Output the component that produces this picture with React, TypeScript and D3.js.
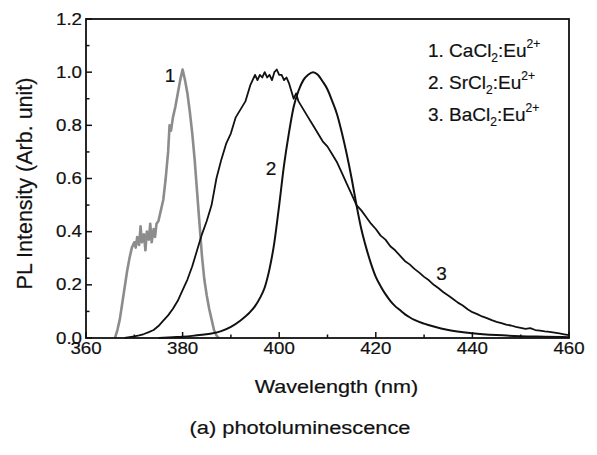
import * as d3 from "d3";
import React from "react";

// curve 1: CaCl2:Eu2+ (grey, noisy)
const caWl = [366, 366.5, 367, 367.5, 368, 368.5, 369, 369.5, 370, 370.3, 370.6, 371, 371.3, 371.6, 372, 372.3, 372.6, 373, 373.3, 373.6, 374, 374.3, 374.6, 375, 375.5, 376, 376.5, 377, 377.3, 377.6, 378, 378.5, 379, 379.5, 380, 380.5, 381, 381.5, 382, 382.5, 383, 383.5, 384, 384.5, 385, 385.5, 386, 386.5, 387, 387.5];
const caI = [0, 0.03, 0.07, 0.13, 0.19, 0.25, 0.3, 0.34, 0.36, 0.34, 0.38, 0.35, 0.42, 0.36, 0.39, 0.33, 0.4, 0.37, 0.43, 0.36, 0.41, 0.38, 0.43, 0.44, 0.48, 0.52, 0.6, 0.7, 0.8, 0.78, 0.83, 0.87, 0.92, 0.97, 1.01, 0.97, 0.92, 0.85, 0.77, 0.67, 0.55, 0.43, 0.31, 0.22, 0.16, 0.11, 0.07, 0.03, 0.01, 0];

// curve 2: SrCl2:Eu2+ (smooth)
const srWl = [375, 378, 380, 382, 384, 386, 388, 390, 392, 394, 395, 396, 397, 398, 399, 400, 401, 402, 403, 404, 405, 406, 407, 408, 409, 410, 411, 412, 413, 414, 415, 416, 417, 418, 419, 420, 421, 422, 423, 424, 425, 426, 427, 428, 430, 432, 435, 440, 445, 450, 455, 460];
const srI = [0, 0.003, 0.005, 0.008, 0.012, 0.017, 0.026, 0.042, 0.066, 0.098, 0.12, 0.15, 0.19, 0.26, 0.36, 0.5, 0.65, 0.77, 0.87, 0.93, 0.97, 0.99, 1.0, 0.99, 0.965, 0.935, 0.89, 0.84, 0.77, 0.69, 0.6, 0.5, 0.41, 0.34, 0.28, 0.23, 0.195, 0.165, 0.14, 0.12, 0.105, 0.09, 0.078, 0.068, 0.054, 0.043, 0.03, 0.018, 0.011, 0.007, 0.005, 0.003];

// curve 3: BaCl2:Eu2+ (black, noisy, long tail)
const baWl = [368, 369, 370, 371, 372, 373, 374, 375, 376, 377, 378, 379, 380, 381, 382, 383, 384, 385, 386, 387, 388, 389, 390, 391, 392, 393, 393.5, 394, 394.5, 395, 395.5, 396, 396.5, 397, 397.5, 398, 398.5, 399, 399.5, 400, 400.5, 401, 401.5, 402, 402.5, 403, 403.5, 404, 405, 406, 407, 408, 409, 410, 411, 412, 413, 414, 415, 416, 417, 418, 419, 420, 421, 422, 423, 424, 425, 426, 427, 428, 429, 430, 431, 432, 433, 434, 435, 436, 437, 438, 439, 440, 441, 442, 443, 444, 445, 446, 447, 448, 449, 450, 451, 452, 453, 454, 455, 456, 457, 458, 459, 460];
const baI = [0, 0.003, 0.006, 0.01, 0.015, 0.022, 0.03, 0.045, 0.065, 0.085, 0.11, 0.14, 0.18, 0.22, 0.27, 0.33, 0.39, 0.44, 0.5, 0.6, 0.67, 0.73, 0.77, 0.83, 0.86, 0.89, 0.92, 0.95, 0.97, 0.99, 0.97, 0.99, 0.98, 1.0, 0.98, 0.99, 0.97, 1.0, 1.01, 0.99, 0.99, 0.97, 0.98, 0.96, 0.93, 0.9, 0.92, 0.89, 0.86, 0.83, 0.8, 0.77, 0.74, 0.72, 0.69, 0.66, 0.62, 0.58, 0.54, 0.5, 0.48, 0.455, 0.43, 0.41, 0.385, 0.37, 0.345, 0.33, 0.31, 0.29, 0.277, 0.26, 0.246, 0.23, 0.217, 0.2, 0.187, 0.172, 0.16, 0.147, 0.133, 0.122, 0.108, 0.097, 0.09, 0.081, 0.075, 0.067, 0.061, 0.056, 0.05, 0.047, 0.042, 0.038, 0.034, 0.037, 0.03, 0.028, 0.025, 0.023, 0.02, 0.017, 0.014, 0.011];

const xTicks = [360, 380, 400, 420, 440, 460];
const yTicks = [0, 0.2, 0.4, 0.6, 0.8, 1.0, 1.2];

const legendNames = ["CaCl", "SrCl", "BaCl"];

const FONT = "'Liberation Sans', Arial, Helvetica, sans-serif";
const INK = "#111";

export default function App() {
  const left = 86, right = 569, top = 19, bottom = 338;
  const x = d3.scaleLinear().domain([360, 460]).range([left, right]);
  const y = d3.scaleLinear().domain([0, 1.2]).range([bottom, top]);

  const mkLine = (wl: number[], vals: number[], curve: any) =>
    d3
      .line<number>()
      .x((_, i) => x(wl[i]))
      .y((d) => y(d))
      .curve(curve)(vals) as string;

  const xMinor = d3.range(370, 460, 20);
  const yMinor = d3.range(0.1, 1.2, 0.2);

  // slight stroke so text looks as heavy as the scanned original
  const txt = { fill: INK, stroke: INK, strokeWidth: 0.2 };

  return (
    <svg width={597} height={455} style={{ position: "absolute", left: 0, top: 0, background: "#fff" }} fontFamily={FONT}>
      <rect x={0} y={0} width={597} height={455} fill="#fff" />

      {/* curves */}
      <path d={mkLine(caWl, caI, d3.curveLinear)} fill="none" stroke="#8c8c8c" strokeWidth={2.6} strokeLinejoin="round" />
      <path d={mkLine(srWl, srI, d3.curveMonotoneX)} fill="none" stroke={INK} strokeWidth={2} />
      <path d={mkLine(baWl, baI, d3.curveLinear)} fill="none" stroke={INK} strokeWidth={1.8} strokeLinejoin="round" />

      {/* frame */}
      <rect x={left} y={top} width={right - left} height={bottom - top} fill="none" stroke={INK} strokeWidth={1.8} />

      {/* x ticks */}
      {xTicks.map((t) => (
        <g key={"xt" + t}>
          <line x1={x(t)} x2={x(t)} y1={bottom} y2={bottom - 6} stroke={INK} strokeWidth={1.5} />
          <text transform={`translate(${x(t)},${353.5}) scale(1.17,1)`} textAnchor="middle" fontSize={16} {...txt}>
            {t}
          </text>
        </g>
      ))}
      {xMinor.map((t) => (
        <line key={"xm" + t} x1={x(t)} x2={x(t)} y1={bottom} y2={bottom - 3.5} stroke={INK} strokeWidth={1.5} />
      ))}

      {/* y ticks */}
      {yTicks.map((t) => (
        <g key={"yt" + t}>
          <line x1={left} x2={left + 6} y1={y(t)} y2={y(t)} stroke={INK} strokeWidth={1.5} />
          <text transform={`translate(${left - 4},${y(t) + 5.5}) scale(1.17,1)`} textAnchor="end" fontSize={16} {...txt}>
            {t.toFixed(1)}
          </text>
        </g>
      ))}
      {yMinor.map((t) => (
        <line key={"ym" + t} x1={left} x2={left + 3.5} y1={y(t)} y2={y(t)} stroke={INK} strokeWidth={1.5} />
      ))}

      {/* axis titles */}
      <text transform={`translate(336.5,393) scale(1.2,1)`} textAnchor="middle" fontSize={18} {...txt}>
        Wavelength (nm)
      </text>
      <text transform={`translate(32,183.5) rotate(-90)`} textAnchor="middle" fontSize={21.5} {...txt}>
        PL Intensity (Arb. unit)
      </text>

      {/* curve labels */}
      <text x={170} y={82} textAnchor="middle" fontSize={19} {...txt}>1</text>
      <text x={271} y={175} textAnchor="middle" fontSize={19} {...txt}>2</text>
      <text x={441.5} y={280} textAnchor="middle" fontSize={19} {...txt}>3</text>

      {/* legend */}
      {legendNames.map((n, i) => (
        <text key={n} x={428} y={57 + i * 31.8} fontSize={19} {...txt}>
          {`${i + 1}. ${n}`}
          <tspan fontSize={12} dy={5}>2</tspan>
          <tspan fontSize={19} dy={-5}>:Eu</tspan>
          <tspan fontSize={12} dy={-9}>2+</tspan>
        </text>
      ))}

      {/* caption */}
      <text transform={`translate(300,434) scale(1.15,1)`} textAnchor="middle" fontSize={19} {...txt}>
        (a)  photoluminescence
      </text>
    </svg>
  );
}
